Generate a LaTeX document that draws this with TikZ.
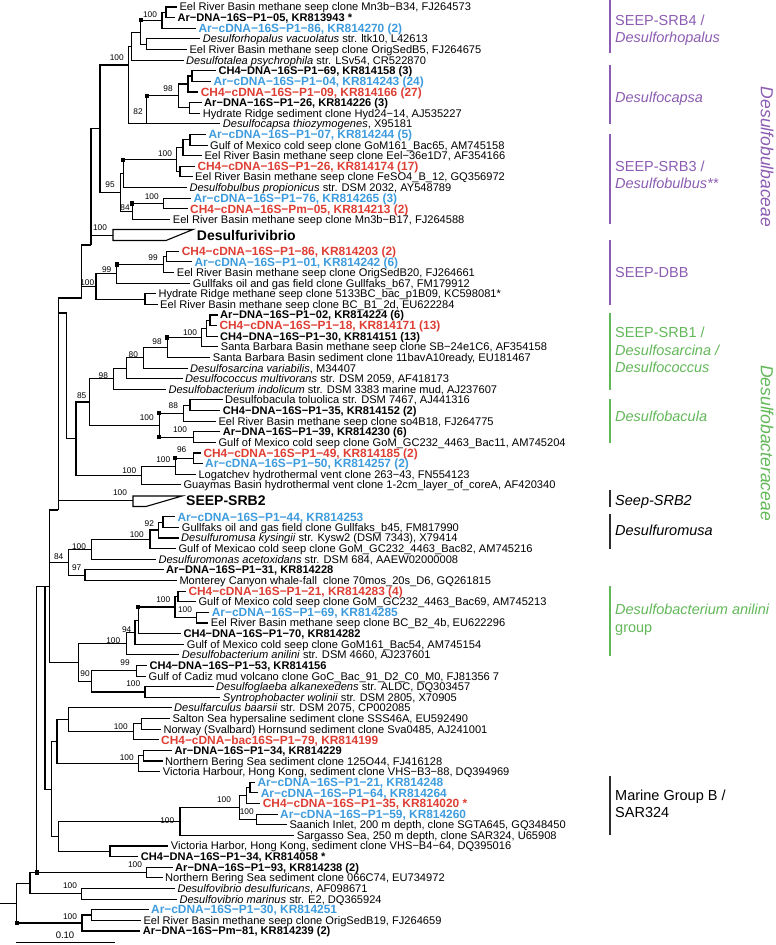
\documentclass[tikz,border=0pt]{standalone}
\usepackage{fontspec}
\setmainfont{Liberation Sans}
\usetikzlibrary{calc}
\definecolor{cblue}{RGB}{62,156,222}
\definecolor{cred}{RGB}{222,62,52}
\definecolor{cpurp}{RGB}{140,92,178}
\definecolor{cgreen}{RGB}{98,184,88}
\definecolor{cdark}{RGB}{45,45,45}
\pgfmathdeclarefunction{ry}{1}{\pgfmathparse{7+10.62*#1}}
\tikzset{
  tree/.style={line width=1.1pt, line join=miter},
  leafn/.style={anchor=west, inner sep=0pt, text height=7.95pt, text depth=0pt, font=\fontsize{11.1}{12}\selectfont},
  leafb/.style={leafn, font=\fontsize{11.1}{12}\selectfont\bfseries},
  leafbl/.style={anchor=west, inner sep=0pt, text height=8.5pt, text depth=0pt, font=\fontsize{11.9}{13}\selectfont\bfseries, text=cblue},
  leafrd/.style={leafbl, text=cred},
  leafbig/.style={anchor=west, inner sep=0pt, text height=10pt, text depth=0pt, font=\fontsize{14}{16}\selectfont\bfseries},
  boot/.style={inner sep=0pt, font=\fontsize{8.3}{9}\selectfont},
  nodesq/.style={rectangle, fill=black, draw=none, minimum size=4.2pt, inner sep=0pt},
  side/.style={anchor=west, inner sep=0pt, text height=10.4pt, text depth=0pt, font=\fontsize{14.5}{16}\selectfont},
  bar/.style={line width=1.3pt},
  fam/.style={rotate=-90, inner sep=0pt, font=\fontsize{17.5}{19}\selectfont\itshape}
}
\newcommand\lf[5]{%
  \coordinate (#1) at ({#3-2.5},{ry(#2)});
  \node[#4] (t#1) at (#3,{ry(#2)}) {#5};}
\newcommand\nd[4]{%
  \coordinate (tmp) at ($(#3)!0.5!(#4)$);
  \coordinate (#1) at (#2,0 |- tmp);
  \draw[tree] (#3) -| (#1) |- (#4);}
\begin{document}
\begin{tikzpicture}[x=1pt,y=-1pt]
\useasboundingbox (0,0) rectangle (776,945);
% leaves
\lf{a1}{0}{179.3}{leafn}{Eel River Basin methane seep clone Mn3b−B34, FJ264573}
\lf{a2}{1}{177.3}{leafb}{Ar−DNA−16S−P1−05, KR813943 *}
\lf{a3}{2}{198.3}{leafbl}{Ar−cDNA−16S−P1−86, KR814270 (2)}
\lf{a4}{3}{202.7}{leafn}{\textit{Desulforhopalus vacuolatus} str. ltk10, L42613}
\lf{a5}{4}{189.3}{leafn}{Eel River Basin methane seep clone OrigSedB5, FJ264675}
\lf{a6}{5}{186}{leafn}{\textit{Desulfotalea psychrophila} str. LSv54, CR522870}
\lf{a7}{6}{218.3}{leafb}{CH4−DNA−16S−P1−69, KR814158 (3)}
\lf{a8}{7}{213.3}{leafbl}{Ar−cDNA−16S−P1−04, KR814243 (24)}
\lf{a9}{8}{200.7}{leafrd}{CH4−cDNA−16S−P1−09, KR814166 (27)}
\lf{a10}{9}{204}{leafb}{Ar−DNA−16S−P1−26, KR814226 (3)}
\lf{a11}{10}{202.7}{leafn}{Hydrate Ridge sediment clone Hyd24−14, AJ535227}
\lf{a12}{11}{222.7}{leafn}{\textit{Desulfocapsa thiozymogenes}, X95181}
\lf{a13}{12}{208.3}{leafbl}{Ar−cDNA−16S−P1−07, KR814244 (5)}
\lf{a14}{13}{210}{leafn}{Gulf of Mexico cold seep clone GoM161\_Bac65, AM745158}
\lf{a15}{14}{204.3}{leafn}{Eel River Basin methane seep clone Eel−36e1D7, AF354166}
\lf{a16}{15}{197.3}{leafrd}{CH4−cDNA−16S−P1−26, KR814174 (17)}
\lf{a17}{16}{195}{leafn}{Eel River Basin methane seep clone FeSO4\_B\_12, GQ356972}
\lf{a18}{17}{189.3}{leafn}{\textit{Desulfobulbus propionicus} str. DSM 2032, AY548789}
\lf{a19}{18}{193.3}{leafbl}{Ar−cDNA−16S−P1−76, KR814265 (3)}
\lf{a20}{19}{190}{leafrd}{CH4−cDNA−16S−Pm−05, KR814213 (2)}
\lf{a21}{20}{172.7}{leafn}{Eel River Basin methane seep clone Mn3b−B17, FJ264588}
\coordinate (a22) at (113,{ry(21.5)});
\draw[tree] (113,229.5) -- (193,229.5) -- (166,240.5) -- (113,240.5) -- cycle;
\node[leafbig] (t22) at (196.7,235) {Desulfurivibrio};
\lf{a23}{23}{181.7}{leafrd}{CH4−cDNA−16S−P1−86, KR814203 (2)}
\lf{a24}{24}{194.3}{leafbl}{Ar−cDNA−16S−P1−01, KR814242 (6)}
\lf{a25}{25}{176.7}{leafn}{Eel River Basin methane seep clone OrigSedB20, FJ264661}
\lf{a26}{26}{192.7}{leafn}{Gullfaks oil and gas field clone Gullfaks\_b67, FM179912}
\lf{a27}{27}{158.3}{leafn}{Hydrate Ridge methane seep clone 5133BC\_bac\_p1B09, KC598081*}
\lf{a28}{28}{160}{leafn}{Eel River Basin methane seep clone BC\_B1\_2d, EU622284}
\lf{a29}{29}{220}{leafb}{Ar−DNA−16S−P1−02, KR814224 (6)}
\lf{a30}{30}{219.3}{leafrd}{CH4−cDNA−16S−P1−18, KR814171 (13)}
\lf{a31}{31}{220}{leafb}{CH4−DNA−16S−P1−30, KR814151 (13)}
\lf{a32}{32}{220.7}{leafn}{Santa Barbara Basin methane seep clone SB−24e1C6, AF354158}
\lf{a33}{33}{212.7}{leafn}{Santa Barbara Basin sediment clone 11bavA10ready, EU181467}
\lf{a34}{34}{190}{leafn}{\textit{Desulfosarcina variabilis}, M34407}
\lf{a35}{35}{185}{leafn}{\textit{Desulfococcus multivorans} str. DSM 2059, AF418173}
\lf{a36}{36}{168.3}{leafn}{\textit{Desulfobacterium indolicum} str. DSM 3383 marine mud, AJ237607}
\lf{a37}{37}{225}{leafn}{Desulfobacula toluolica str. DSM 7467, AJ441316}
\lf{a38}{38}{222.7}{leafb}{CH4−DNA−16S−P1−35, KR814152 (2)}
\lf{a39}{39}{218.3}{leafn}{Eel River Basin methane seep clone so4B18, FJ264775}
\lf{a40}{40}{222.7}{leafb}{Ar−DNA−16S−P1−39, KR814230 (6)}
\lf{a41}{41}{218.3}{leafn}{Gulf of Mexico cold seep clone GoM\_GC232\_4463\_Bac11, AM745204}
\lf{a42}{42}{203.3}{leafrd}{CH4−cDNA−16S−P1−49, KR814185 (2)}
\lf{a43}{43}{205}{leafbl}{Ar−cDNA−16S−P1−50, KR814257 (2)}
\lf{a44}{44}{198.3}{leafn}{Logatchev hydrothermal vent clone 263−43, FN554123}
\lf{a45}{45}{183.3}{leafn}{Guaymas Basin hydrothermal vent clone 1-2cm\_layer\_of\_coreA, AF420340}
\coordinate (a46) at (133,{ry(46.5)});
\draw[tree] (133,496) -- (182,496) -- (146,506.5) -- (133,506.5) -- cycle;
\node[leafbig] (t46) at (186,500.5) {SEEP-SRB2};
\lf{a47}{48}{177.3}{leafbl}{Ar−cDNA−16S−P1−44, KR814253}
\lf{a48}{49}{181.7}{leafn}{Gullfaks oil and gas field clone Gullfaks\_b45, FM817990}
\lf{a49}{50}{181}{leafn}{\textit{Desulfuromusa kysingii} str. Kysw2 (DSM 7343), X79414}
\lf{a50}{51}{178.3}{leafn}{Gulf of Mexicao cold seep clone GoM\_GC232\_4463\_Bac82, AM745216}
\lf{a51}{52}{158.3}{leafn}{\textit{Desulfuromonas acetoxidans} str. DSM 684, AAEW02000008}
\lf{a52}{53}{166}{leafb}{Ar−DNA−16S−P1−31, KR814228}
\lf{a53}{54}{179.3}{leafn}{Monterey Canyon whale-fall\ \ clone 70mos\_20s\_D6, GQ261815}
\lf{a54}{55}{188.3}{leafrd}{CH4−cDNA−16S−P1−21, KR814283 (4)}
\lf{a55}{56}{198.3}{leafn}{Gulf of Mexico cold seep clone GoM\_GC232\_4463\_Bac69, AM745213}
\lf{a56}{57}{211.7}{leafbl}{Ar−cDNA−16S−P1−69, KR814285}
\lf{a57}{58}{210.7}{leafn}{Eel River Basin methane seep clone BC\_B2\_4b, EU622296}
\lf{a58}{59}{183.3}{leafb}{CH4−DNA−16S−P1−70, KR814282}
\lf{a59}{60}{186.7}{leafn}{Gulf of Mexico cold seep clone GoM161\_Bac54, AM745154}
\lf{a60}{61}{181.7}{leafn}{\textit{Desulfobacterium anilini} str. DSM 4660, AJ237601}
\lf{a61}{62}{149.3}{leafb}{CH4−DNA−16S−P1−53, KR814156}
\lf{a62}{63}{148.5}{leafn}{Gulf of Cadiz mud volcano clone GoC\_Bac\_91\_D2\_C0\_M0, FJ81356\ 7}
\lf{a63}{64}{216}{leafn}{\textit{Desulfoglaeba alkanexedens} str. ALDC, DQ303457}
\lf{a64}{65}{222.7}{leafn}{\textit{Syntrophobacter wolinii} str. DSM 2805, X70905}
\lf{a65}{66}{174}{leafn}{\textit{Desulfarculus baarsii} str. DSM 2075, CP002085}
\lf{a66}{67}{172.3}{leafn}{Salton Sea hypersaline sediment clone SSS46A, EU592490}
\lf{a67}{68}{163.3}{leafn}{Norway (Svalbard) Hornsund sediment clone Sva0485, AJ241001}
\lf{a68}{69}{161}{leafrd}{CH4−cDNA−bac16S−P1−79, KR814199}
\lf{a69}{70}{174.3}{leafb}{Ar−DNA−16S−P1−34, KR814229}
\lf{a70}{71}{165}{leafn}{Northern Bering Sea sediment clone 125O44, FJ416128}
\lf{a71}{72}{162.7}{leafn}{Victoria Harbour, Hong Kong, sediment clone VHS−B3−88, DQ394969}
\lf{a72}{73}{257.3}{leafbl}{Ar−cDNA−16S−P1−21, KR814248}
\lf{a73}{74}{260.7}{leafbl}{Ar−cDNA−16S−P1−64, KR814264}
\lf{a74}{75}{262.7}{leafrd}{CH4−cDNA−16S−P1−35, KR814020 *}
\lf{a75}{76}{280}{leafbl}{Ar−cDNA−16S−P1−59, KR814260}
\lf{a76}{77}{289.3}{leafn}{Saanich Inlet, 200 m depth, clone SGTA645, GQ348450}
\lf{a77}{78}{296.7}{leafn}{Sargasso Sea, 250 m depth, clone SAR324, U65908}
\lf{a78}{79}{170.7}{leafn}{Victoria Harbor, Hong Kong, sediment clone VHS−B4−64, DQ395016}
\lf{a79}{80}{140.7}{leafb}{CH4−DNA−16S−P1−34, KR814058 *}
\lf{a80}{81}{175}{leafb}{Ar−DNA−16S−P1−93, KR814238 (2)}
\lf{a81}{82}{165}{leafn}{Northern Bering Sea sediment clone 066C74, EU734972}
\lf{a82}{83}{177.3}{leafn}{\textit{Desulfovibrio desulfuricans}, AF098671}
\lf{a83}{84}{179.3}{leafn}{\textit{Desulfovibrio marinus} str. E2, DQ365924}
\lf{a84}{85}{151}{leafbl}{Ar−cDNA−16S−P1−30, KR814251}
\lf{a85}{86}{143.3}{leafn}{Eel River Basin methane seep clone OrigSedB19, FJ264659}
\lf{a86}{87}{142.7}{leafb}{Ar−DNA−16S−Pm−81, KR814239 (2)}
% internal nodes (Desulfobulbaceae)
\nd{U}{166}{a1}{a2}
\nd{T}{162}{U}{a3}
\nd{V}{146.7}{a4}{a5}
\nd{S}{140.7}{T}{V}
\nd{B}{131.7}{S}{a6}
\nd{D1a}{192}{a7}{a8}
\nd{D1}{188}{D1a}{a9}
\nd{D2}{189.3}{a10}{a11}
\nd{D}{178.3}{D1}{D2}
\coordinate (C) at (146.7,{ry(11)});
\draw[tree] (D) -| (C);
\coordinate (G) at (128.3,65);
\draw[tree] (B) -| (128.3,{ry(11)}) -- (a12);
\nd{I1}{190}{a13}{a14}
\nd{I2}{183}{I1}{a15}
\nd{I3}{180}{a16}{a17}
\nd{I}{176.7}{I2}{I3}
\nd{K}{123.3}{I}{a18}
\nd{M}{163.3}{a19}{a20}
\nd{L}{132.3}{M}{a21}
\nd{H}{120.7}{K}{L}
\nd{E}{100}{G}{H}
\coordinate (F) at (91,245);
\draw[tree] (E) -| (F);
\draw[tree] (F |- a22) -- (a22);
\nd{N1}{166.7}{a23}{a24}
\nd{N2}{163.3}{N1}{a25}
\nd{N3}{116.7}{N2}{a26}
\nd{N4}{145}{a27}{a28}
\nd{N5}{96}{N3}{N4}
\coordinate (P) at (81.7,298);
\draw[tree] (F) -| (P);
\draw[tree] (P |- N5) -- (N5);
% Desulfobacteraceae
\nd{R1}{210}{a29}{a30}
\nd{R2}{206.7}{R1}{a31}
\nd{R3}{201.7}{R2}{a32}
\nd{R4}{167.3}{R3}{a33}
\nd{R5}{143.3}{R4}{a34}
\nd{R6}{126.7}{R5}{a35}
\nd{R7}{113.3}{R6}{a36}
\nd{S1}{190}{a37}{a38}
\nd{S2}{183.3}{S1}{a39}
\nd{S3}{193.3}{a40}{a41}
\nd{S4}{159.3}{S2}{S3}
\nd{R8}{89.3}{R7}{S4}
\nd{T1}{193.3}{a42}{a43}
\nd{T2}{175.3}{T1}{a44}
\nd{T3}{141.7}{T2}{a45}
\nd{R9}{76}{R8}{T3}
% Desulfuromusa
\nd{U1}{163}{a47}{a48}
\nd{U2}{158.3}{U1}{a49}
\nd{U3}{150}{U2}{a50}
\nd{U4}{91.7}{U3}{a51}
\nd{U5}{85}{a52}{a53}
\nd{U6}{68.3}{U4}{U5}
% anilini / Syntrophobacteraceae
\nd{W2}{178}{a54}{a55}
\nd{W3}{196.7}{a56}{a57}
\nd{W4}{175}{W2}{W3}
\nd{W5}{138.3}{W4}{a58}
\nd{W6}{135}{W5}{a59}
\nd{W7}{126.7}{W6}{a60}
\nd{W8}{136.7}{a61}{a62}
\nd{W9}{145}{a63}{a64}
\nd{W10}{91.7}{W8}{W9}
\nd{W11}{78.3}{W7}{W10}
\nd{X1}{141.7}{a66}{a67}
\nd{X2}{133.3}{X1}{a68}
\nd{W12}{68.3}{a65}{X2}
\nd{X3}{143.3}{a69}{a70}
\nd{X4}{138.3}{X3}{a71}
\nd{X6}{57}{W12}{X4}
% Marine Group B
\nd{Y1}{250}{a72}{a73}
\nd{Y2}{246.7}{Y1}{a74}
\nd{Y4}{256.7}{a75}{a76}
\nd{Y5}{239.3}{Y2}{Y4}
\nd{Y6}{180}{Y5}{a77}
\nd{Y7}{110}{a78}{a79}
\nd{Y8}{58.3}{Y6}{Y7}
\nd{na}{51.7}{X6}{Y8}
% bottom clades
\nd{Z1}{146.7}{a80}{a81}
\nd{Z2}{81.7}{a82}{a83}
\nd{Z3}{91.7}{a84}{a85}
\nd{Z4}{82}{Z3}{a86}
% backbone
\coordinate (Q) at (58.3,510);
\draw[tree] (P) -| (Q);
\draw[tree] (Q |- a46) -- (a46);
\coordinate (R10) at (66.7,313);
\draw[tree] (Q |- R10) -- (R10) |- (R9);
\coordinate (n1t) at (49.3,510);
\draw[tree] (Q) -- (n1t) |- (W11);
\draw[tree] (n1t |- U6) -- (U6);
\coordinate (n1) at ($(n1t)!0.5!(n1t |- W11)$);
\coordinate (n2) at (45,0 |- n1);
\draw[tree] (n1) -- (n2) |- (na);
\coordinate (n3) at (36.7,0 |- Z1);
\draw[tree] (n2) -| (n3) -- (Z1);
\nd{n4}{30}{n3}{Z2}
\nd{rt}{16.7}{n4}{Z4}
\draw[tree] (rt) -- (rt -| 0,0);
% squares
\foreach \p/\c in {S/T, C/D, K/I, L/M, N3/N2, R4/R3, S4/S2, S4/S3, T2/T1, W5/W4, n3/Z1, rt/Z4}
  \node[nodesq] at (\p |- \c) {};
% bootstrap values
\foreach \x/\y/\v in {150/15/100, 116.7/58/100, 168/89/98, 138/111.7/82, 165/154/100, 110/185/95,
  151.7/197/100, 125/208/84, 100/228/100, 153/258/99, 106.7/270/99, 87.3/283/100,
  190/333/100, 157/342/98, 133.3/355/80, 103.3/376/98, 81.7/396/85, 173.3/405.7/88,
  146.7/417.3/100, 180/429.3/100, 181.7/450/96, 163.3/460/100, 129.3/471/100, 120/492.7/100,
  149.3/523.3/92, 136.7/535/100, 79/546.7/100, 58.7/556.7/84, 76.7/567.7/97,
  163.3/599.3/100, 185/610/100, 126.7/630/94, 113.3/640.5/100, 125/662.3/99, 85/674/90,
  133.3/684/100, 120.7/726.7/100, 126.7/757.3/100, 224/800/100, 246.7/811.7/100,
  167.3/821/100, 135/865/100, 70/885.7/100, 70/916.7/100}
  \node[boot] at (\x,\y) {\v};
% scale bar
\draw[tree] (16,942.5) coordinate (sb1) -- (115,942.5) coordinate (sb2);
\node[boot, font=\fontsize{9.5}{10}\selectfont] (sbl) at (65,935.5) {0.10};
% group bars and labels
\draw[bar, cpurp] (610,0) -- (610,53);
\node[side, text=cpurp] (g1a) at (615,20) {SEEP-SRB4 /};
\node[side, text=cpurp] (g1b) at (615,37) {\textit{Desulforhopalus}};
\draw[bar, cpurp] (610,65) -- (610,124);
\node[side, text=cpurp] (g2) at (615,97) {\textit{Desulfocapsa}};
\draw[bar, cpurp] (610,134) -- (610,224);
\node[side, text=cpurp] (g3a) at (615,166) {SEEP-SRB3 /};
\node[side, text=cpurp] (g3b) at (615,183) {\textit{Desulfobulbus**}};
\draw[bar, cpurp] (610,240) -- (610,305);
\node[side, text=cpurp] (g4) at (615,272) {SEEP-DBB};
\draw[bar, cgreen] (610,313) -- (610,390);
\node[side, text=cgreen] (g5a) at (615,332.7) {SEEP-SRB1 /};
\node[side, text=cgreen] (g5b) at (615,350) {\textit{Desulfosarcina /}};
\node[side, text=cgreen] (g5c) at (615,367.3) {\textit{Desulfococcus}};
\draw[bar, cgreen] (610,399) -- (610,443);
\node[side, text=cgreen] (g6) at (615,416.7) {\textit{Desulfobacula}};
\draw[bar, cdark] (610,490) -- (610,507);
\node[side, text=black] (g7) at (615,500) {\textit{Seep-SRB2}};
\draw[bar, cdark] (610,514) -- (610,549);
\node[side, text=black] (g8) at (615,530.7) {\textit{Desulfuromusa}};
\draw[bar, cgreen] (610,586) -- (610,656);
\node[side, text=cgreen] (g9a) at (615,609.3) {\textit{Desulfobacterium anilini}};
\node[side, text=cgreen] (g9b) at (615,627.3) {group};
\draw[bar, cdark] (610,776) -- (610,835);
\node[side, text=black] (g10a) at (615,795) {Marine Group B /};
\node[side, text=black] (g10b) at (615,812.7) {SAR324};
\node[fam, text=cpurp] (fam1) at (767,157) {Desulfobulbaceae};
\node[fam, text=cgreen] (fam2) at (767,443) {Desulfobacteraceae};
\end{tikzpicture}
\end{document}
